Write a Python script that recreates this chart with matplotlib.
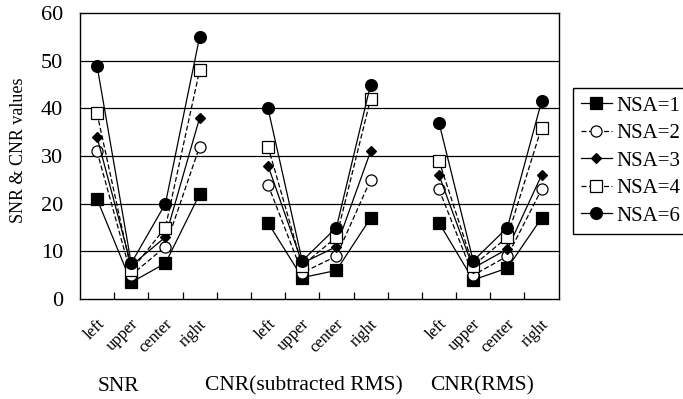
import numpy as np
import matplotlib
matplotlib.use("Agg")
import matplotlib.pyplot as plt

plt.rcParams['font.family'] = ['Liberation Serif', 'DejaVu Serif']

# slot labels (blank slots separate the three groups)
positions = ['left', 'upper', 'center', 'right']
groups = ['SNR', 'CNR(subtracted RMS)', 'CNR(RMS)']

# values per NSA, one list of 4 per group (SNR, CNR sub, CNR RMS)
nsa1 = [[21, 3.5, 7.5, 22], [16, 4.5, 6, 17], [16, 4, 6.5, 17]]
nsa2 = [[31, 5, 11, 32], [24, 5.5, 9, 25], [23, 5, 9, 23]]
nsa3 = [[34, 7, 13, 38], [28, 7.5, 11, 31], [26, 6.5, 10.5, 26]]
nsa4 = [[39, 6, 15, 48], [32, 7, 13, 42], [29, 7, 13, 36]]
nsa6 = [[49, 7.5, 20, 55], [40, 8, 15, 45], [37, 8, 15, 41.5]]

series = [
    ('NSA=1', nsa1, dict(marker='s', mfc='black', ms=8.5, ls='-')),
    ('NSA=2', nsa2, dict(marker='o', mfc='white', ms=8, ls=(0, (4, 2)))),
    ('NSA=3', nsa3, dict(marker='D', mfc='black', ms=5.5, ls='-')),
    ('NSA=4', nsa4, dict(marker='s', mfc='white', ms=8.5, ls=(0, (4, 2)))),
    ('NSA=6', nsa6, dict(marker='o', mfc='black', ms=8.5, ls='-')),
]

fig = plt.figure(figsize=(6.83, 3.99), dpi=100)
ax = fig.add_axes([0.117, 0.2506, 0.701, 0.7164])

for name, vals, st in series:
    for g, v in enumerate(vals):
        x = np.arange(4) + g * 5
        ax.plot(x, v, color='black', lw=0.9, mec='black', mew=0.9,
                label=name if g == 0 else None, **st)

ax.set_xlim(-0.5, 13.5)
ax.set_ylim(0, 60)
ax.set_yticks(range(0, 61, 10))
for y in range(10, 60, 10):
    ax.axhline(y, color='black', lw=0.9, zorder=0)

# slot ticks at the boundaries, labels at slot centres
ax.set_xticks(np.arange(0.5, 13.5, 1.0))
ax.set_xticklabels([])
ax.tick_params(axis='x', direction='in', length=5, width=0.9)
ax.tick_params(axis='y', length=0, labelsize=16, pad=12)
for s in ax.spines.values():
    s.set_linewidth(1.0)

for g in range(3):
    for i, p in enumerate(positions):
        ax.text(g * 5 + i + 0.15, -4.8, p, rotation=45, rotation_mode='anchor',
                ha='right', va='center', fontsize=12)

label_x = [0.64, 6.05, 11.25]
for g, name in enumerate(groups):
    ax.text(label_x[g], -18.3, name, ha='center', va='center', fontsize=15.5)

ax.set_ylabel('SNR & CNR values', fontsize=13)
ax.yaxis.set_label_coords(-0.11, 0.52)

fig.legend(loc='upper left', bbox_to_anchor=(0.839, 0.78), fontsize=15,
           frameon=True, fancybox=False, edgecolor='black', framealpha=1,
           handlelength=1.45, handletextpad=0.25, labelspacing=0.38,
           borderpad=0.4, borderaxespad=0)

fig.savefig('out.png', dpi=100)
